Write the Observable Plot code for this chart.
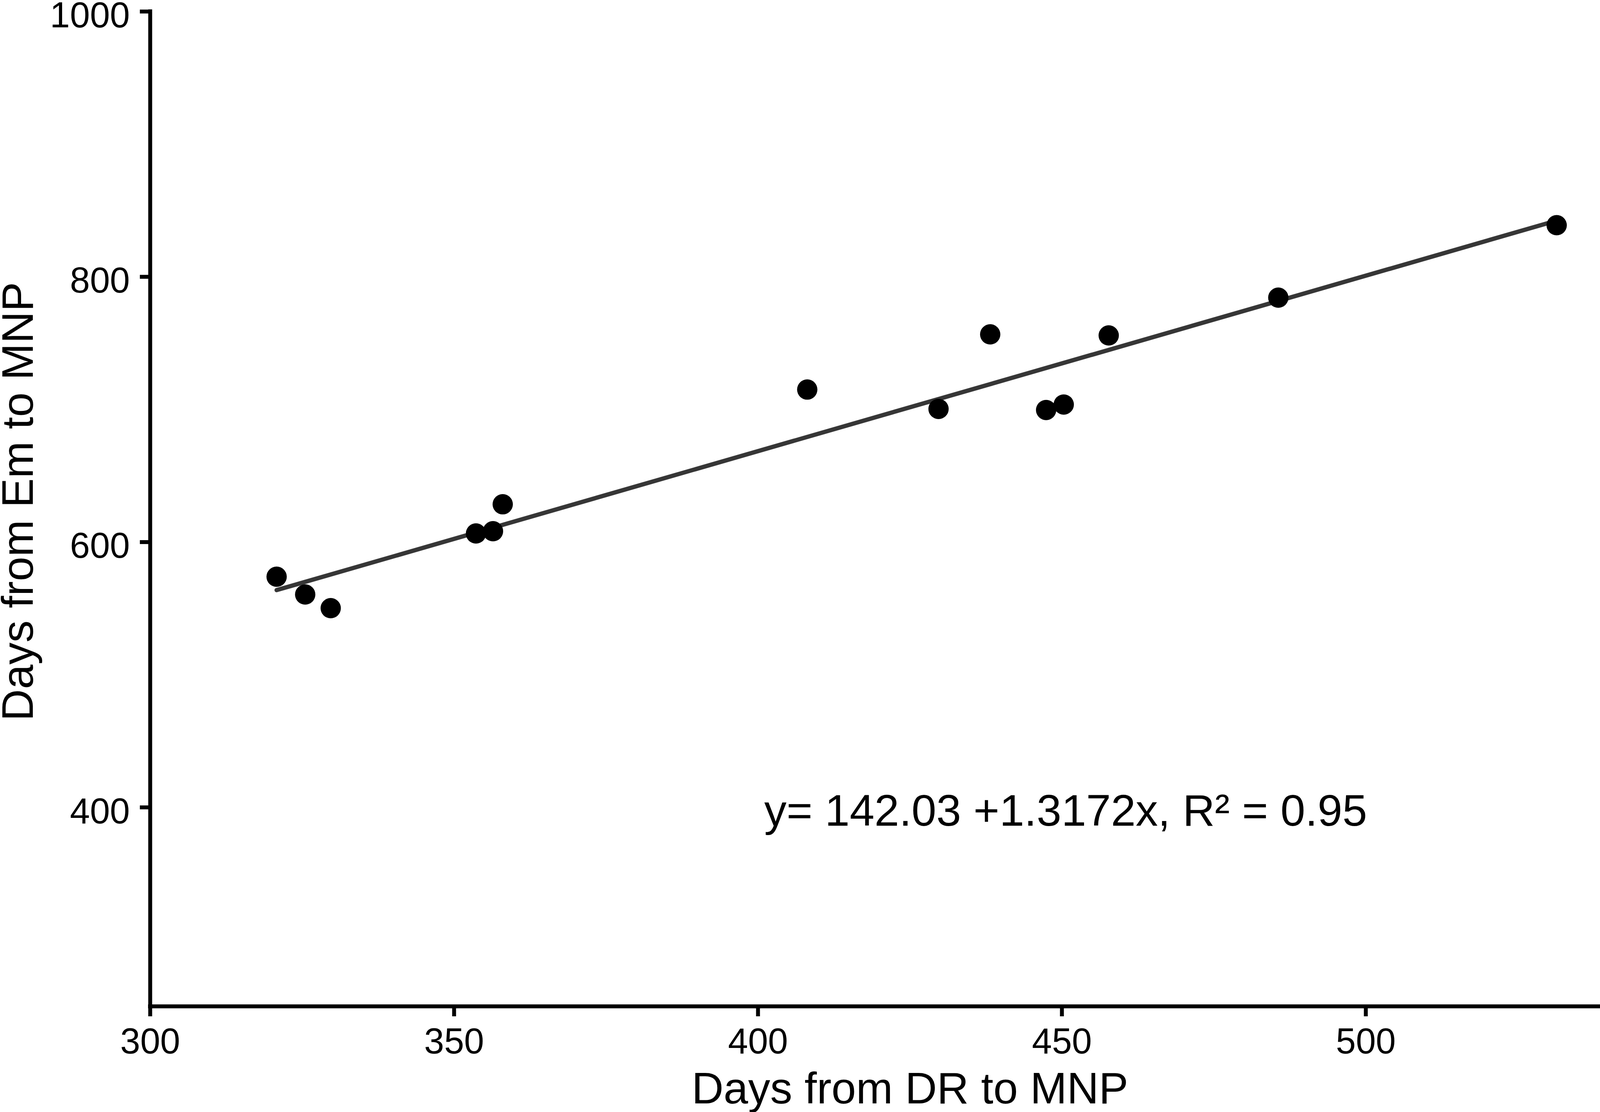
<!DOCTYPE html>
<html>
<head>
<meta charset="utf-8">
<script src="https://cdn.jsdelivr.net/npm/d3@7"></script>
<script src="https://cdn.jsdelivr.net/npm/@observablehq/plot@0.6"></script>
<style>
html, body { margin: 0; padding: 0; background: #ffffff; }
#chart { width: 4331px; height: 2847px; }
</style>
</head>
<body>
<div id="chart"></div>
<script>
// Data
const drDays = [320.8, 325.5, 329.7, 353.6, 356.4, 358.0, 408.1, 429.7, 438.2, 447.4, 450.3, 457.7, 485.6, 531.4];
const emDays = [573.9, 560.5, 550.2, 606.5, 608.2, 628.5, 715.0, 700.4, 756.6, 699.6, 703.7, 755.8, 784.3, 838.9];
const xTicks = [300, 350, 400, 450, 500, 550];
const yTicks = [400, 600, 800, 1000];
const xDomain = [300, 550];
const yDomain = [250, 1000];
const xLabel = "Days from DR to MNP";
const yLabel = "Days from Em to MNP";
const equationLabel = "y= 142.03 +1.3172x, R\u00B2 = 0.95";

const points = drDays.map((x, i) => ({dr: x, em: emDays[i]}));
const font = "'Liberation Sans', Arial, Helvetica, sans-serif";

const chart = Plot.plot({
  width: 4331,
  height: 2847,
  marginLeft: 384,
  marginRight: 57,
  marginTop: 29,
  marginBottom: 271,
  style: {fontFamily: font, background: "#ffffff", color: "#000000", overflow: "visible"},
  x: {domain: xDomain},
  y: {domain: yDomain},
  marks: [
    Plot.axisX({ticks: xTicks, tickSize: 26, tickPadding: 29, fontSize: 92, strokeWidth: 10, stroke: "#000", fill: "#000", label: null, tickFormat: d => String(d)}),
    Plot.axisY({ticks: yTicks, tickSize: 26, strokeWidth: 10, stroke: "#000", label: null, tickFormat: () => ""}),
    Plot.axisY({ticks: yTicks, tickSize: 0, tickPadding: 52, dy: 11, fontSize: 92, fill: "#000", label: null, tickFormat: d => String(d)}),
    Plot.ruleY([yDomain[0]], {stroke: "#000", strokeWidth: 10, strokeLinecap: "square"}),
    Plot.ruleX([xDomain[0]], {y1: yDomain[0], y2: yDomain[1], stroke: "#000", strokeWidth: 10, strokeLinecap: "square"}),
    Plot.linearRegressionY(points, {x: "dr", y: "em", ci: 0, stroke: "#363636", strokeWidth: 11}),
    Plot.dot(points, {x: "dr", y: "em", r: 26, fill: "#000000", stroke: "none"}),
    Plot.text([equationLabel], {frameAnchor: "top-left", dx: 1572, dy: 2084, textAnchor: "start", lineAnchor: "bottom", fontSize: 114, fill: "#000"}),
    Plot.text([xLabel], {frameAnchor: "bottom", dy: 248, textAnchor: "middle", lineAnchor: "bottom", fontSize: 113, fill: "#000"}),
    Plot.text([yLabel], {frameAnchor: "left", rotate: -90, dx: -301, dy: -19, textAnchor: "middle", lineAnchor: "bottom", fontSize: 113, fill: "#000"})
  ]
});

document.getElementById("chart").appendChild(chart);
</script>
</body>
</html>
